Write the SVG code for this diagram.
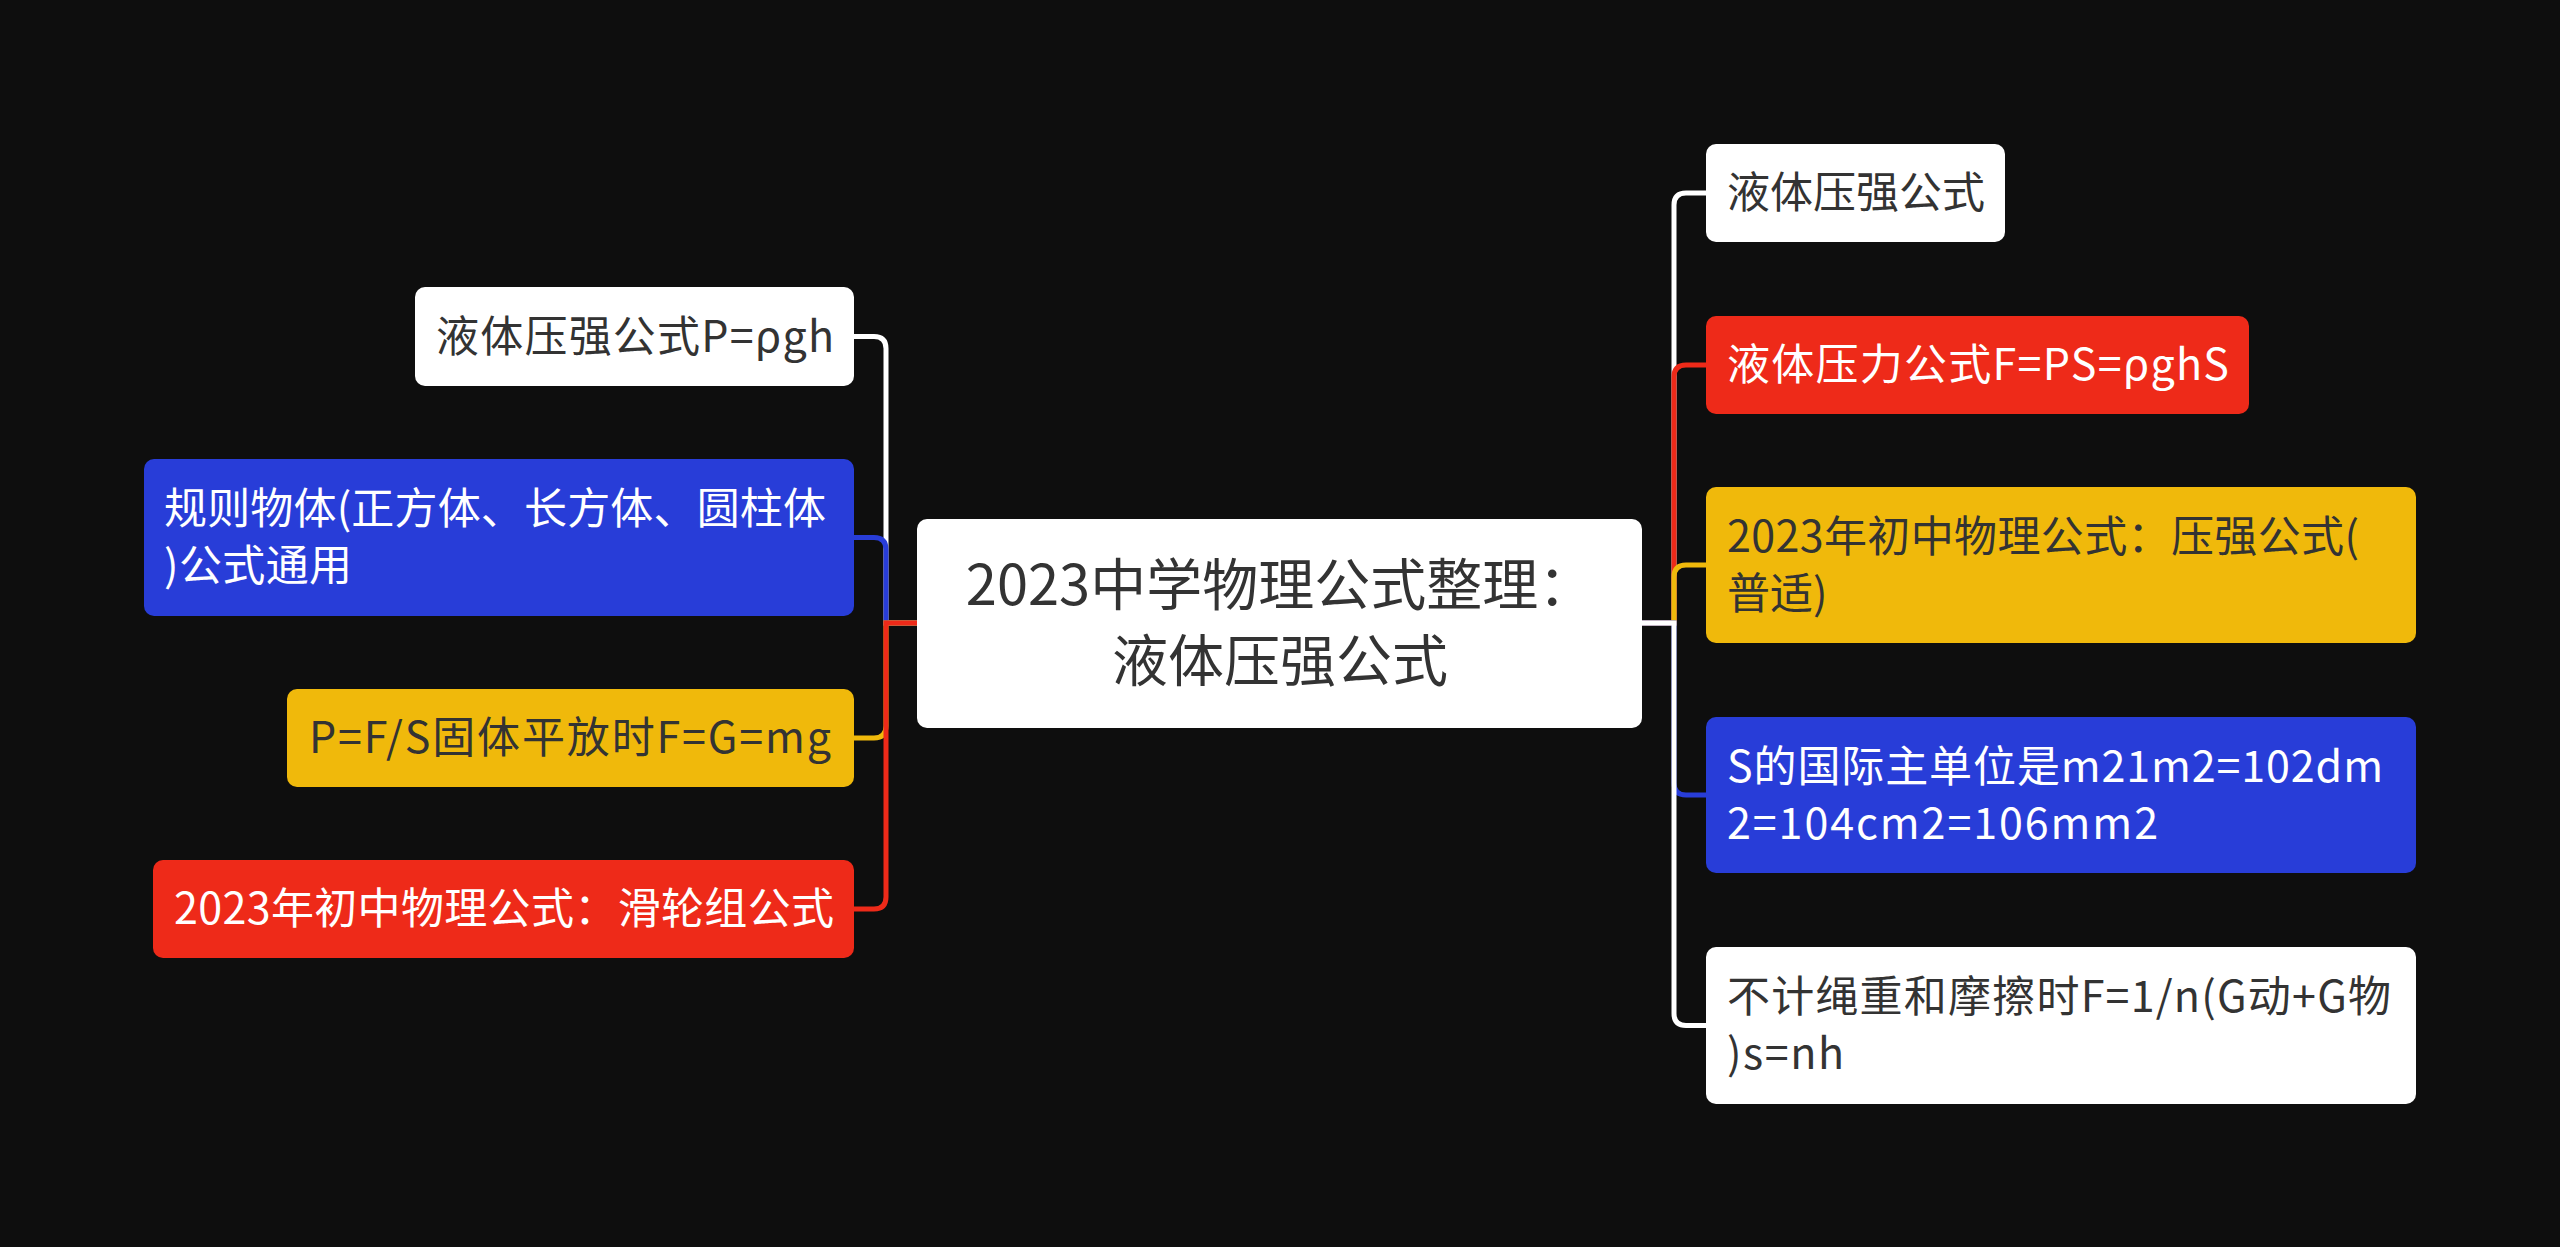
<svg xmlns="http://www.w3.org/2000/svg" width="2560" height="1247" viewBox="0 0 2560 1247">
<style>
.bg{fill:#0e0e0e}
.nw{fill:#ffffff}
.nr{fill:#ee2a19}
.ny{fill:#f0b90b}
.nb{fill:#283dd8}
text{font-family:"Noto Sans CJK SC","Noto Sans",sans-serif;font-size:43px}
.td{fill:#333333}
.tl{fill:#ffffff}
.tc{font-size:56px;fill:#333333;text-anchor:middle}
.c{fill:none;stroke-width:5;stroke-linejoin:miter}
.cw{stroke:#ffffff}
.cr{stroke:#ee2a19}
.cy{stroke:#f0b90b}
.cb{stroke:#283dd8}
</style>
<rect class="bg" x="0" y="0" width="2560" height="1247"/>
<g id="connectors">
<path class="c cw" d="M917,623 H886 V348.5 Q886,336.5 874,336.5 H854"/>
<path class="c cb" d="M917,623 H886 V549.5 Q886,537.5 874,537.5 H854"/>
<path class="c cy" d="M917,623 H886 V726 Q886,738 874,738 H854"/>
<path class="c cr" d="M917,623 H886 V897 Q886,909 874,909 H854"/>
<path class="c cw" d="M1642,623 H1674 V205 Q1674,193 1686,193 H1706"/>
<path class="c cr" d="M1642,623 H1674 V377 Q1674,365 1686,365 H1706"/>
<path class="c cy" d="M1642,623 H1674 V577 Q1674,565 1686,565 H1706"/>
<path class="c cb" d="M1642,623 H1674 V783 Q1674,795 1686,795 H1706"/>
<path class="c cw" d="M1642,623 H1674 V1013.5 Q1674,1025.5 1686,1025.5 H1706"/>
</g>
<g id="center">
<rect class="nw" x="917" y="519" width="725" height="209" rx="10"/>
<text class="tc" x="1280" y="605">2023中学物理公式整理：</text>
<text class="tc" x="1280" y="681">液体压强公式</text>
</g>
<g id="l1">
<rect class="nw" x="415" y="287" width="439" height="99" rx="10"/>
<text class="td" x="436" y="352" textLength="398" lengthAdjust="spacing">液体压强公式P=ρgh</text>
</g>
<g id="l2">
<rect class="nb" x="144" y="459" width="710" height="157" rx="10"/>
<text class="tl" x="164" y="524" textLength="662" lengthAdjust="spacing">规则物体(正方体、长方体、圆柱体</text>
<text class="tl" x="164" y="581" textLength="188" lengthAdjust="spacing">)公式通用</text>
</g>
<g id="l3">
<rect class="ny" x="287" y="689" width="567" height="98" rx="10"/>
<text class="td" x="309" y="753" textLength="522" lengthAdjust="spacing">P=F/S固体平放时F=G=mg</text>
</g>
<g id="l4">
<rect class="nr" x="153" y="860" width="701" height="98" rx="10"/>
<text class="tl" x="174" y="924" textLength="660" lengthAdjust="spacing">2023年初中物理公式：滑轮组公式</text>
</g>
<g id="r1">
<rect class="nw" x="1706" y="144" width="299" height="98" rx="10"/>
<text class="td" x="1727" y="208">液体压强公式</text>
</g>
<g id="r2">
<rect class="nr" x="1706" y="316" width="543" height="98" rx="10"/>
<text class="tl" x="1727" y="380" textLength="502" lengthAdjust="spacing">液体压力公式F=PS=ρghS</text>
</g>
<g id="r3">
<rect class="ny" x="1706" y="487" width="710" height="156" rx="10"/>
<text class="td" x="1727" y="552" textLength="632" lengthAdjust="spacing">2023年初中物理公式：压强公式(</text>
<text class="td" x="1727" y="609">普适)</text>
</g>
<g id="r4">
<rect class="nb" x="1706" y="717" width="710" height="156" rx="10"/>
<text class="tl" x="1727" y="782" textLength="656" lengthAdjust="spacing">S的国际主单位是m21m2=102dm</text>
<text class="tl" x="1727" y="839" textLength="431" lengthAdjust="spacing">2=104cm2=106mm2</text>
</g>
<g id="r5">
<rect class="nw" x="1706" y="947" width="710" height="157" rx="10"/>
<text class="td" x="1727" y="1012" textLength="664" lengthAdjust="spacing">不计绳重和摩擦时F=1/n(G动+G物</text>
<text class="td" x="1727" y="1069" textLength="117" lengthAdjust="spacing">)s=nh</text>
</g>
</svg>
